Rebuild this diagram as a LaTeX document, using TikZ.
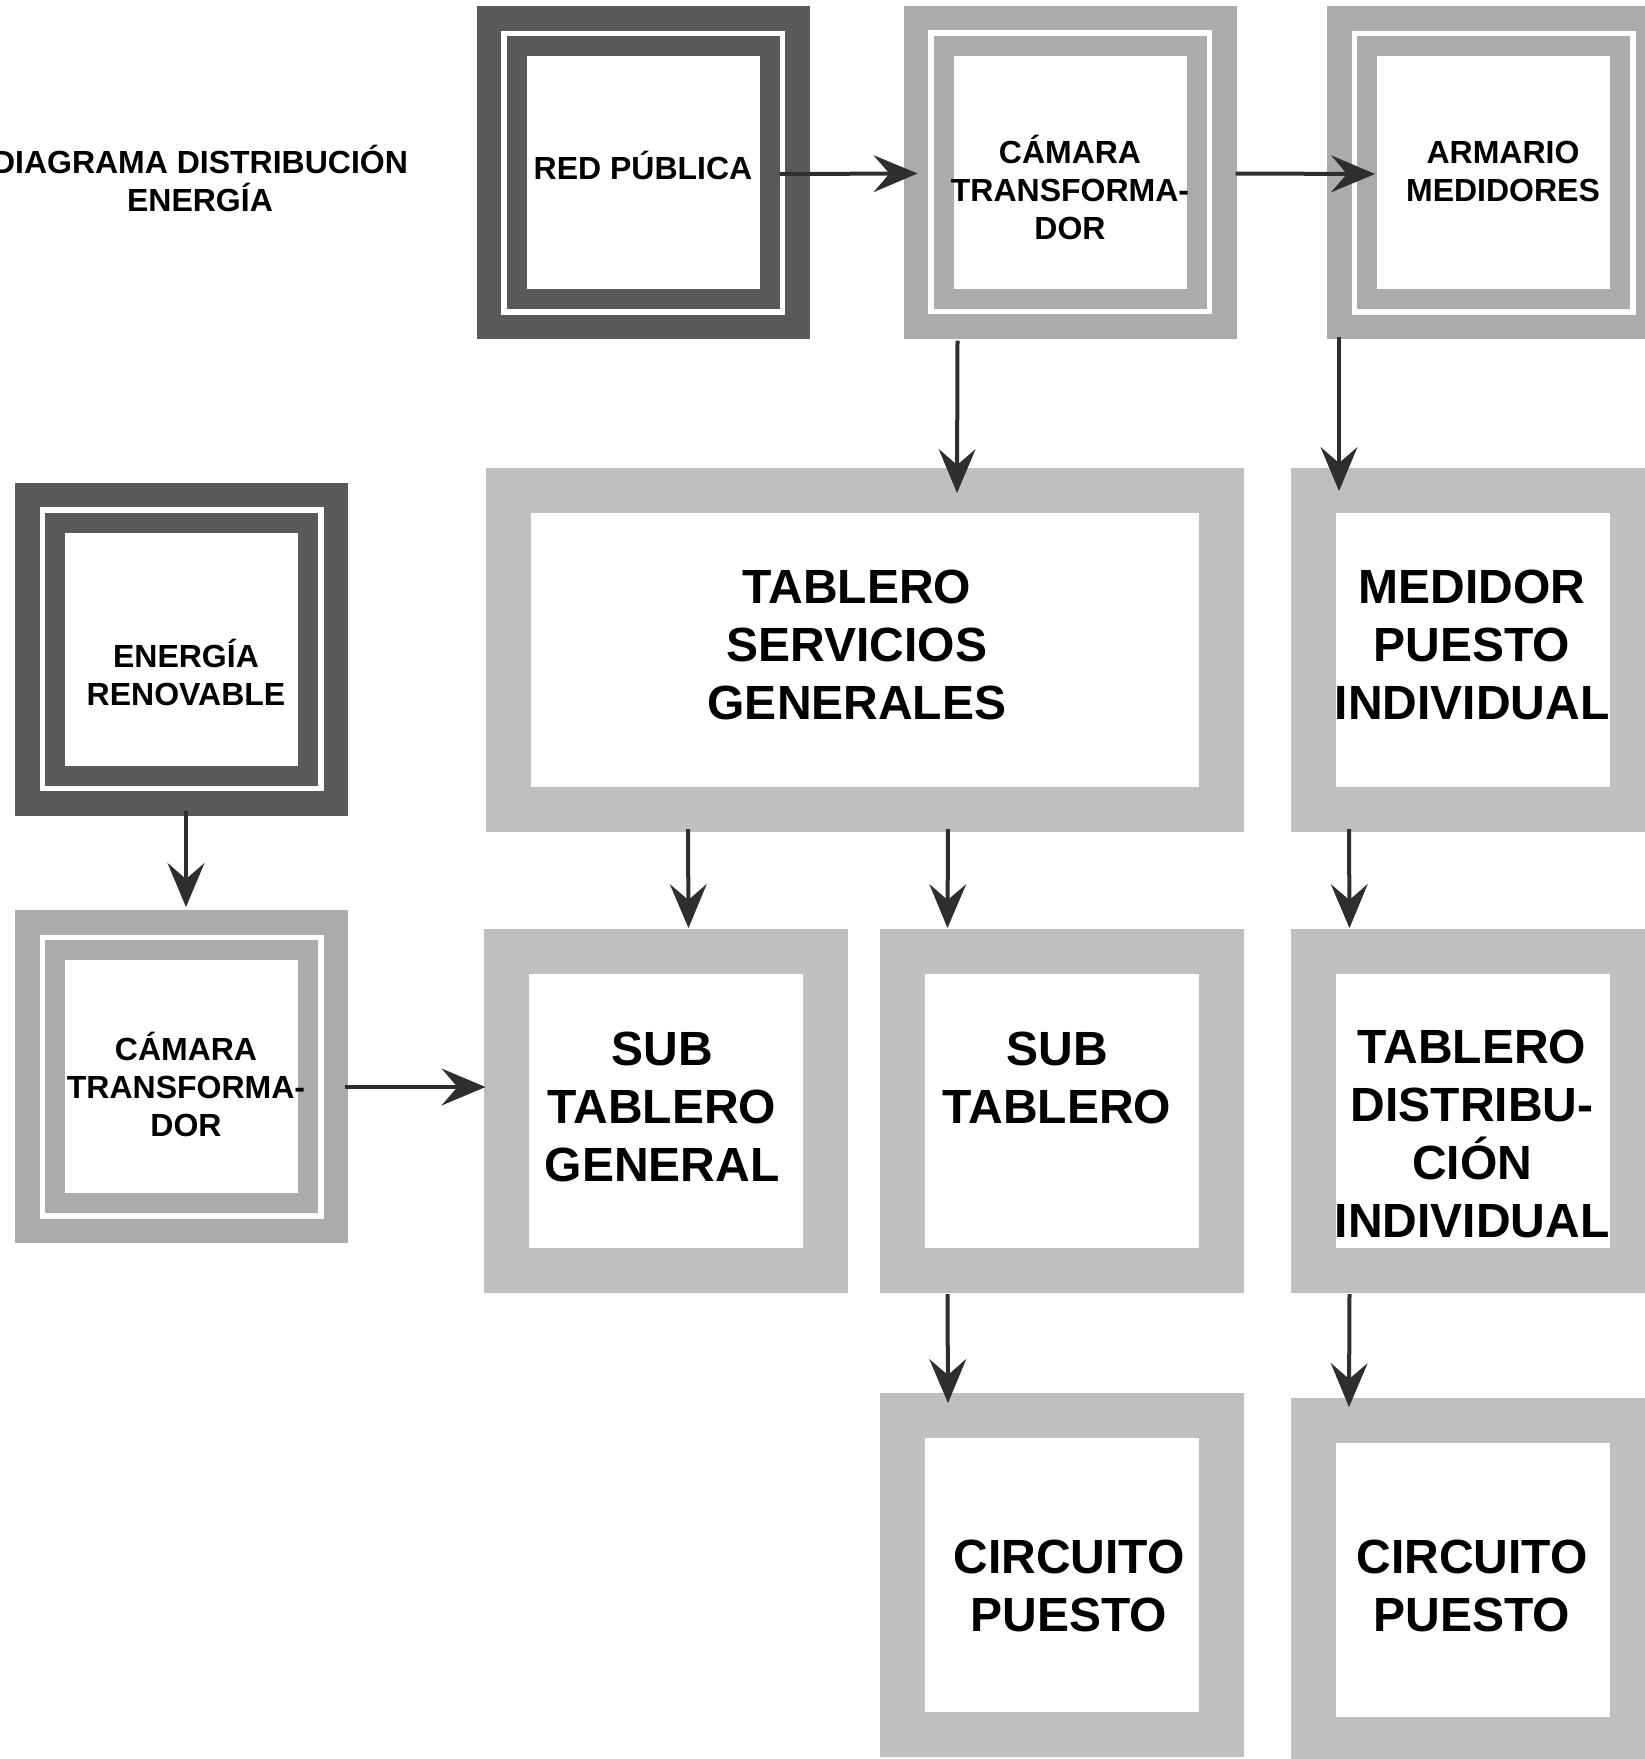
\documentclass[tikz,border=0pt]{standalone}
\usepackage{fontspec}
\setmainfont{Liberation Sans}
\usetikzlibrary{arrows.meta,calc}
\definecolor{darkframe}{HTML}{595959}
\definecolor{midframe}{HTML}{ABABAB}
\definecolor{lightband}{HTML}{BFBFBF}
\definecolor{arrowgray}{HTML}{2E2E2E}
\begin{document}
\begin{tikzpicture}[x=1pt,y=-1pt,
  % single thick band around a white field
  band/.style={draw=#1, fill=white, line width=45pt, inner sep=0pt,
               minimum width=319pt, minimum height=319pt},
  % outer filled square of a double frame
  solid frame/.style={fill=#1, draw=none, inner sep=0pt, outer sep=0pt,
               minimum size=333pt},
  % inner ring of a double frame, with a thin white gap outside it
  ring/.style={fill=white, draw=#1, line width=20pt, inner sep=0pt,
               minimum size=253pt, preaction={draw=white, line width=31pt}},
  % labels are placed by the baseline of their last line
  small label/.style={font=\fontsize{32}{38}\selectfont\bfseries,
               align=center, anchor=base, inner sep=0pt},
  big label/.style={font=\fontsize{48}{58}\selectfont\bfseries,
               align=center, anchor=base, inner sep=0pt},
  arr/.style={draw=arrowgray, line width=4pt,
               -{Stealth[length=44pt,width=37pt,inset=16pt,line width=1pt]}},
]
\useasboundingbox (0,0) rectangle (1645,1759);
\fill[white] (0,0) rectangle (1645,1759);
\clip (0,0) rectangle (1645,1759);

% ---- double-framed blocks ----
\node[solid frame=darkframe] (redO) at (643,172.5) {};
\node[ring=darkframe] (redI) at (643,172.5) {};

\node[solid frame=midframe] (camTO) at (1070,172) {};
\node[ring=midframe] (camTI) at (1070,172) {};

\node[solid frame=midframe] (armO) at (1493.5,172.5) {};
\node[ring=midframe] (armI) at (1493.5,172.5) {};

\node[solid frame=darkframe] (enerO) at (181.5,649) {};
\node[ring=darkframe] (enerI) at (181.5,649) {};

\node[solid frame=midframe] (camLO) at (181.5,1076.5) {};
\node[ring=midframe] (camLI) at (181.5,1076.5) {};

% ---- single-band blocks ----
\node[band=lightband, minimum width=713pt] (tsg) at (865,650) {};
\node[band=lightband] (med) at (1473,650) {};
\node[band=lightband] (subtg) at (665.5,1111) {};
\node[band=lightband] (subt) at (1061.5,1111) {};
\node[band=lightband] (tdi) at (1472.5,1111) {};
\node[band=lightband] (circM) at (1062,1575) {};
\node[band=lightband] (circR) at (1473,1580) {};

% ---- connectors ----
\draw[arr] ($(redI.east)+(0,1.5)$) -- ($(camTO.west)+(14,1.5)$);
\draw[arr] ($(camTO.east)+(-1,1.5)$) -- ($(armO.west)+(48,1.5)$);
\draw[arr] ($(camTO.south west)+(54,2)$) -- ($(tsg.north west)+(471,25)$);
\draw[arr] ($(armO.south west)+(12,-2)$) -- ($(med.north west)+(48,23)$);
\draw[arr] ($(tsg.south west)+(202,-3)$) -- ($(subtg.north west)+(205,-1)$);
\draw[arr] ($(tsg.south west)+(462,-3)$) -- ($(subt.north west)+(68,-1)$);
\draw[arr] ($(med.south west)+(58,-3)$) -- ($(tdi.north west)+(59,-1)$);
\draw[arr] ($(subt.south west)+(68,1)$) -- ($(circM.north west)+(68,10)$);
\draw[arr] ($(tdi.south west)+(59,1)$) -- ($(circR.north west)+(58,9)$);
\draw[arr] ($(enerO.south west)+(171,-5)$) -- ($(camLO.north west)+(171,-3)$);
\draw[arr] ($(camLO.east)+(-3,10.5)$) -- ($(subtg.west)+(2,-24)$);

% ---- labels ----
\node[small label] (tTitle) at (200,211) {DIAGRAMA DISTRIBUCIÓN\\ENERGÍA};
\node[small label] (tRed) at (643,179) {RED PÚBLICA};
\node[small label] (tCamT) at (1070,239) {CÁMARA\\TRANSFORMA-\\DOR};
\node[small label] (tArm) at (1503,201) {ARMARIO\\MEDIDORES};
\node[small label] (tEner) at (186,705) {ENERGÍA\\RENOVABLE};
\node[small label] (tCamL) at (186,1136) {CÁMARA\\TRANSFORMA-\\DOR};

\node[big label] (tTsg) at (857,719) {TABLERO\\SERVICIOS\\GENERALES};
\node[big label] (tMed) at (1472,719) {MEDIDOR\\PUESTO\\INDIVIDUAL};
\node[big label] (tSubtg) at (662,1181) {SUB\\TABLERO\\GENERAL};
\node[big label] (tSubt) at (1057,1123) {SUB\\TABLERO};
\node[big label] (tTdi) at (1472,1237) {TABLERO\\DISTRIBU-\\CIÓN\\INDIVIDUAL};
\node[big label] (tCircM) at (1069,1631) {CIRCUITO\\PUESTO};
\node[big label] (tCircR) at (1472,1631) {CIRCUITO\\PUESTO};
\end{tikzpicture}
\end{document}
